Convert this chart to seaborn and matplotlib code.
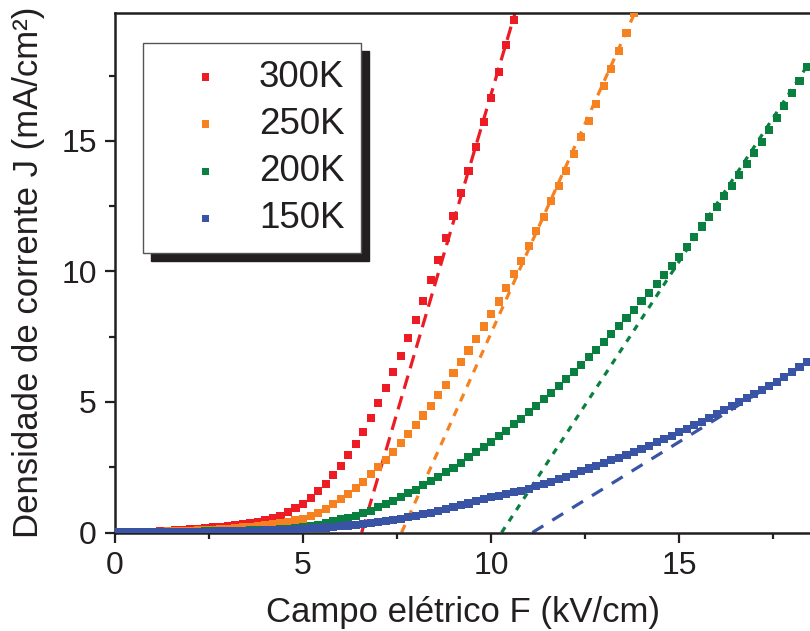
import numpy as np
import pandas as pd
import matplotlib
matplotlib.use("Agg")
import matplotlib.pyplot as plt
import seaborn as sns
from matplotlib.ticker import MultipleLocator

# ---------------- data ----------------
temps = ["300K", "250K", "200K", "150K"]
colors = ["#ed1c24", "#f68121", "#0a8040", "#3953a5"]
field_step = 0.2  # kV/cm between measured points

j_300 = [0.00, 0.00, 0.01, 0.01, 0.02, 0.03, 0.05, 0.07, 0.09, 0.11,
         0.13, 0.15, 0.18, 0.20, 0.22, 0.25, 0.28, 0.31, 0.35, 0.41,
         0.47, 0.54, 0.63, 0.77, 0.93, 1.10, 1.33, 1.58, 1.86, 2.20,
         2.56, 2.98, 3.39, 3.86, 4.40, 4.95, 5.52, 6.16, 6.76, 7.44,
         8.14, 8.87, 9.67, 10.44, 11.27, 12.13, 13.00, 13.86, 14.76, 15.72,
         16.64, 17.63, 18.68, 19.64]
j_250 = [0.00, 0.00, 0.01, 0.01, 0.02, 0.02, 0.03, 0.04, 0.05, 0.06,
         0.07, 0.08, 0.10, 0.11, 0.13, 0.15, 0.17, 0.19, 0.22, 0.25,
         0.28, 0.31, 0.35, 0.41, 0.48, 0.53, 0.63, 0.76, 0.91, 1.08,
         1.27, 1.47, 1.70, 1.95, 2.23, 2.50, 2.79, 3.10, 3.42, 3.77,
         4.12, 4.48, 4.86, 5.27, 5.66, 6.10, 6.52, 6.97, 7.41, 7.89,
         8.37, 8.85, 9.38, 9.90, 10.40, 10.98, 11.55, 12.10, 12.70, 13.29,
         13.86, 14.50, 15.14, 15.77, 16.42, 17.11, 17.76, 18.46, 19.13, 19.89]
j_200 = [0.00, 0.00, 0.00, 0.01, 0.01, 0.01, 0.01, 0.02, 0.02, 0.02,
         0.03, 0.03, 0.04, 0.04, 0.05, 0.05, 0.06, 0.07, 0.08, 0.09,
         0.10, 0.11, 0.13, 0.15, 0.17, 0.20, 0.25, 0.30, 0.35, 0.44,
         0.50, 0.57, 0.64, 0.73, 0.84, 0.96, 1.09, 1.22, 1.37, 1.50,
         1.63, 1.81, 1.97, 2.14, 2.31, 2.48, 2.67, 2.88, 3.07, 3.28,
         3.48, 3.70, 3.90, 4.15, 4.36, 4.61, 4.85, 5.10, 5.36, 5.61,
         5.89, 6.16, 6.43, 6.72, 7.00, 7.31, 7.61, 7.91, 8.22, 8.54,
         8.87, 9.19, 9.53, 9.87, 10.22, 10.57, 10.95, 11.33, 11.72, 12.10,
         12.48, 12.89, 13.29, 13.70, 14.12, 14.55, 14.97, 15.42, 15.87, 16.34,
         16.83, 17.31, 17.82]
j_150 = [0.00, 0.00, 0.00, 0.01, 0.01, 0.01, 0.01, 0.01, 0.02, 0.02,
         0.02, 0.03, 0.03, 0.03, 0.04, 0.04, 0.05, 0.05, 0.06, 0.07,
         0.08, 0.09, 0.10, 0.11, 0.13, 0.15, 0.16, 0.17, 0.19, 0.22,
         0.24, 0.27, 0.30, 0.33, 0.36, 0.40, 0.44, 0.49, 0.53, 0.58,
         0.64, 0.70, 0.76, 0.83, 0.90, 0.97, 1.04, 1.11, 1.19, 1.28,
         1.35, 1.40, 1.47, 1.54, 1.60, 1.68, 1.78, 1.86, 1.95, 2.05,
         2.14, 2.24, 2.34, 2.45, 2.55, 2.65, 2.77, 2.87, 2.98, 3.10,
         3.21, 3.33, 3.46, 3.58, 3.71, 3.84, 3.97, 4.12, 4.25, 4.40,
         4.54, 4.69, 4.83, 4.99, 5.14, 5.31, 5.47, 5.62, 5.78, 5.95,
         6.14, 6.33, 6.53]

# linear fits of the high-field region: x-intercept and slope
fit_x0 = [6.56, 7.62, 10.28, 11.10]
fit_slope = [4.88, 3.21, 2.20, 0.89]

x_ticks = [0, 5, 10, 15]
y_ticks = [0, 5, 10, 15]
x_max, y_max = 18.48, 19.9
x_label = "Campo elétrico F (kV/cm)"
y_label = "Densidade de corrente J (mA/cm²)"

# ---------------- styling ----------------
sns.set_style("ticks")
ink = "#231f20"
plt.rcParams["font.family"] = ["Liberation Sans", "DejaVu Sans"]
plt.rcParams["text.color"] = ink
plt.rcParams["axes.labelcolor"] = ink
plt.rcParams["xtick.color"] = ink
plt.rcParams["ytick.color"] = ink

fig = plt.figure(figsize=(8.10, 6.31), dpi=100)
ax = fig.add_axes([115 / 810, 1 - 532.5 / 631, 1 - 115 / 810, (532.5 - 13) / 631])

series = [j_300, j_250, j_200, j_150]
# dash patterns (in units of line width)
dash_styles = [(4.3, 2.4), (2.6, 2.4), (2.0, 2.2), (4.0, 3.3)]

frames = []
for name, vals in zip(temps, series):
    f = np.round(np.arange(len(vals)) * field_step, 2)
    frames.append(pd.DataFrame({"F": f, "J": vals, "T": name}))
data = pd.concat(frames, ignore_index=True)

# fit lines
for name, col, x0, m, dsh in zip(temps, colors, fit_x0, fit_slope, dash_styles):
    xs = np.array([x0, x_max])
    fit_df = pd.DataFrame({"F": xs, "J": m * (xs - x0)})
    sns.lineplot(data=fit_df, x="F", y="J", ax=ax, color=col, lw=2.3,
                 legend=False, zorder=2)
    ax.get_lines()[-1].set_dashes(dsh)

# data points
handles = []
for name, col in zip(temps, colors):
    sub = data[data["T"] == name]
    sns.scatterplot(data=sub, x="F", y="J", ax=ax, marker="s", s=34,
                    color=col, edgecolor="none", linewidth=0, zorder=3,
                    label=name, legend=False)
    handles.append(ax.collections[-1])

ax.set_xlim(0, x_max)
ax.set_ylim(0, y_max)
ax.set_xticks(x_ticks)
ax.set_yticks(y_ticks)
ax.xaxis.set_minor_locator(MultipleLocator(2.5))
ax.yaxis.set_minor_locator(MultipleLocator(2.5))
ax.tick_params(which="major", direction="out", length=7, width=1.6,
               labelsize=23, pad=6, colors=ink)
ax.tick_params(which="minor", direction="out", length=4, width=1.6, colors=ink)
for side in ["left", "bottom", "top"]:
    ax.spines[side].set_linewidth(1.8)
    ax.spines[side].set_color(ink)
ax.spines["right"].set_visible(False)

ax.set_xlabel(x_label, fontsize=25, labelpad=11)
ax.set_ylabel(y_label, fontsize=25, labelpad=12)

leg_kw = dict(loc="upper left", bbox_to_anchor=((143 - 115) / 695, 1 - (43 - 13) / 519.5),
              borderaxespad=0, fontsize=26.5, frameon=True, fancybox=False,
              borderpad=0.45, labelspacing=0.33, handlelength=2.5,
              handletextpad=0.2, markerscale=0.9)
try:
    leg = ax.legend(handles, temps, shadow={"ox": 6, "oy": -6, "color": ink, "alpha": 1},
                    **leg_kw)
except Exception:
    leg = ax.legend(handles, temps, shadow=True, **leg_kw)
frame = leg.get_frame()
frame.set_edgecolor("#555555")
frame.set_linewidth(1.0)
frame.set_facecolor("white")
frame.set_alpha(1)

fig.savefig("out.png", dpi=100)
